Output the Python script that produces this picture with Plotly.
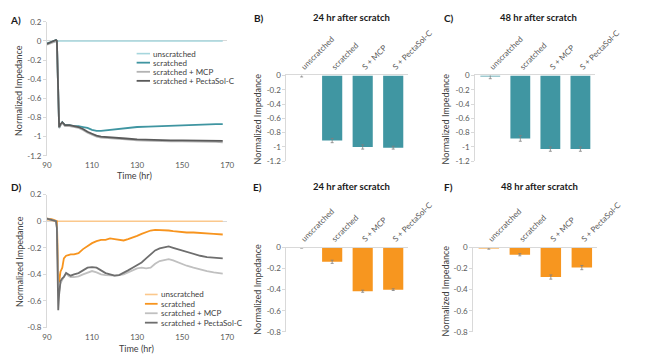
import plotly.graph_objects as go

W, H = 650, 362
FONT = "Lato"

# ---------------- data ----------------
series_names = ["unscratched", "scratched", "scratched + MCP", "scratched + PectaSol-C"]
bar_categories = ["unscratched", "scratched", "S + MCP", "S + PectaSol-C"]

time_a = [90, 91, 92, 93, 94, 94.4, 95.4, 96, 96.8, 98, 100, 102, 104, 106, 108, 110, 112, 114, 116,
          120, 125, 130, 135, 140, 145, 150, 155, 160, 165, 168]
a_unscratched = [-0.02, -0.015, -0.01, -0.005, 0, 0, 0, 0, 0, 0, 0, 0, 0, 0, 0, 0, 0, 0, 0,
                 0, 0, 0, 0, 0, 0, 0, 0, 0, 0, 0]
a_scratched = [-0.03, -0.02, -0.01, 0.0, 0.01, 0.0, -0.91, -0.88, -0.85, -0.88, -0.88, -0.89, -0.89,
               -0.90, -0.91, -0.93, -0.94, -0.94, -0.935, -0.925, -0.91, -0.90, -0.895, -0.89, -0.885,
               -0.88, -0.875, -0.87, -0.87, -0.87]
a_mcp = [-0.04, -0.03, -0.02, -0.01, 0.0, 0.0, -0.91, -0.88, -0.86, -0.89, -0.89, -0.90, -0.91, -0.93,
         -0.96, -0.98, -1.0, -1.01, -1.015, -1.02, -1.03, -1.04, -1.045, -1.05, -1.05, -1.05, -1.05,
         -1.055, -1.055, -1.06]
a_pecta = [-0.03, -0.02, -0.01, 0.0, 0.01, 0.0, -0.90, -0.87, -0.85, -0.88, -0.88, -0.89, -0.90, -0.92,
           -0.95, -0.97, -0.99, -1.0, -1.005, -1.01, -1.02, -1.03, -1.035, -1.04, -1.04, -1.04, -1.04,
           -1.04, -1.04, -1.045]

time_d = [90, 91, 92, 93, 94, 94.4, 95.0, 95.4, 96.0, 96.8, 97.5, 98.5, 99.5, 100.5, 102, 104, 106,
          108, 110, 112, 114, 116, 118, 120, 122, 124, 126, 128, 130, 132, 134, 136, 138, 140, 142,
          144, 146, 148, 150, 152, 155, 158, 161, 164, 168]
d_unscratched = [0.01, 0.01, 0.005, 0.0, 0, 0, 0, 0, 0, 0, 0, 0, 0, 0, 0, 0, 0, 0, 0, 0, 0, 0, 0,
                 0, 0, 0, 0, 0, 0, 0, 0, 0, 0, 0, 0, 0, 0, 0, 0, 0, 0, 0, 0, 0, 0]
d_scratched = [0.02, 0.02, 0.015, 0.01, 0.005, 0.0, -0.40, -0.46, -0.38, -0.35, -0.28, -0.26, -0.255,
               -0.25, -0.25, -0.24, -0.21, -0.185, -0.165, -0.15, -0.14, -0.14, -0.13, -0.135, -0.14,
               -0.145, -0.135, -0.125, -0.11, -0.095, -0.08, -0.07, -0.065, -0.065, -0.07, -0.07,
               -0.075, -0.08, -0.08, -0.085, -0.085, -0.09, -0.09, -0.095, -0.10]
d_mcp = [0.02, 0.015, 0.01, 0.005, 0.0, -0.05, -0.50, -0.53, -0.47, -0.44, -0.42, -0.39, -0.41, -0.42,
         -0.42, -0.415, -0.40, -0.385, -0.375, -0.385, -0.40, -0.405, -0.41, -0.41, -0.405, -0.40,
         -0.385, -0.37, -0.355, -0.35, -0.355, -0.35, -0.32, -0.30, -0.29, -0.285, -0.295, -0.31,
         -0.325, -0.335, -0.35, -0.365, -0.375, -0.385, -0.395]
d_pecta = [0.02, 0.015, 0.01, 0.005, 0.0, -0.05, -0.67, -0.55, -0.45, -0.43, -0.42, -0.39, -0.40,
           -0.41, -0.40, -0.39, -0.37, -0.35, -0.345, -0.35, -0.37, -0.39, -0.40, -0.41, -0.405,
           -0.39, -0.37, -0.35, -0.33, -0.31, -0.28, -0.25, -0.22, -0.205, -0.195, -0.19, -0.20,
           -0.21, -0.225, -0.235, -0.25, -0.26, -0.27, -0.275, -0.28]

b_values = [0.0, -0.91, -1.0, -1.01]
b_errors = [0.02, 0.03, 0.03, 0.02]
c_values = [-0.005, -0.88, -1.03, -1.03]
c_errors = [0.04, 0.04, 0.03, 0.03]
e_values = [0.0, -0.135, -0.415, -0.40]
e_errors = [0.005, 0.015, 0.01, 0.008]
f_values = [-0.005, -0.068, -0.28, -0.19]
f_errors = [0.01, 0.01, 0.02, 0.02]

time_ticks = [90, 110, 130, 150, 170]
ticks_12 = [0.2, 0, -0.2, -0.4, -0.6, -0.8, -1, -1.2]
ticks_12_text = ["0.2", "0", "-0.2", "-0.4", "-0.6", "-0.8", "-1", "-1.2"]
ticks_08 = [0.2, 0, -0.2, -0.4, -0.6, -0.8]
ticks_08_text = ["0.2", "0", "-0.2", "-0.4", "-0.6", "-0.8"]

panel_letters = ["A)", "B)", "C)", "D)", "E)", "F)"]
bar_titles = ["24 hr after scratch", "48 hr after scratch", "24 hr after scratch", "48 hr after scratch"]

teal_colors = ["#a6d6dd", "#3f95a1", "#b3b3b3", "#5a5a5a"]
orange_colors = ["#fbc88c", "#f7941e", "#c0c0c0", "#6e6e6e"]
teal_bar = "#4096a2"
orange_bar = "#f7961f"

AXC = "#d9d9d9"
TXT = "#595959"
TTL = "#404040"


def px(x):
    return x / W


def py(y):
    return 1 - y / H


fig = go.Figure()

# ---------------- line panels ----------------
line_panels = [
    ("x", "y", time_a, [a_unscratched, a_scratched, a_mcp, a_pecta], teal_colors),
    ("x4", "y4", time_d, [d_unscratched, d_scratched, d_mcp, d_pecta], orange_colors),
]
widths = [1.6, 1.8, 1.8, 1.8]
for xa, ya, t, series, cols in line_panels:
    for name, vals, col, w in zip(series_names, series, cols, widths):
        fig.add_trace(go.Scatter(x=t, y=vals, mode="lines", name=name, xaxis=xa, yaxis=ya,
                                 line=dict(color=col, width=w), showlegend=False))

# ---------------- bar panels ----------------
bar_panels = [
    ("x2", "y2", b_values, b_errors, teal_bar),
    ("x3", "y3", c_values, c_errors, teal_bar),
    ("x5", "y5", e_values, e_errors, orange_bar),
    ("x6", "y6", f_values, f_errors, orange_bar),
]
for xa, ya, vals, errs, col in bar_panels:
    fig.add_trace(go.Bar(x=bar_categories, y=vals, xaxis=xa, yaxis=ya, marker=dict(color=col, line=dict(width=0)),
                         error_y=dict(type="data", array=errs, color="#808080", thickness=0.8, width=1.5),
                         showlegend=False, cliponaxis=False))

tickfont = dict(family=FONT, size=8, color=TXT)

# line-axis domains
line_x = [px(44), px(233)]
a_y = [py(155), py(17.3)]
d_y = [py(331.7), py(195)]

common_line_x = dict(range=[90, 170], tickvals=time_ticks, showline=False, showgrid=False, zeroline=False,
                     ticks="outside", ticklen=2, tickcolor="rgba(0,0,0,0)", tickfont=tickfont)
common_line_y = dict(showline=True, linecolor=AXC, linewidth=1, ticks="outside", ticklen=3, tickcolor=AXC,
                     showgrid=False, zeroline=True, zerolinecolor=AXC, zerolinewidth=1, tickfont=tickfont)

fig.update_layout(
    xaxis=dict(domain=line_x, anchor="y", **common_line_x),
    yaxis=dict(domain=a_y, anchor="x", range=[-1.2, 0.2], tickvals=ticks_12, ticktext=ticks_12_text,
               **common_line_y),
    xaxis4=dict(domain=line_x, anchor="y4", **common_line_x),
    yaxis4=dict(domain=d_y, anchor="x4", range=[-0.8, 0.2], tickvals=ticks_08, ticktext=ticks_08_text,
                **common_line_y),
)

common_bar_x = dict(side="top", tickangle=-45, showline=True, linecolor=AXC, linewidth=1, ticks="",
                    showgrid=False, zeroline=False, tickfont=tickfont, type="category")
common_bar_y = dict(showline=True, linecolor=AXC, linewidth=1, ticks="outside", ticklen=3, tickcolor=AXC,
                    showgrid=False, zeroline=False, tickfont=tickfont)
b_y = [py(160.7), py(72.5)]
e_y = [py(336), py(249.5)]
fig.update_layout(
    xaxis2=dict(domain=[px(295), px(423)], anchor="y2", **common_bar_x),
    yaxis2=dict(domain=b_y, anchor="x2", range=[-1.2, 0], tickvals=ticks_12[1:], ticktext=ticks_12_text[1:],
                **common_bar_y),
    xaxis3=dict(domain=[px(493), px(619)], anchor="y3", **common_bar_x),
    yaxis3=dict(domain=b_y, anchor="x3", range=[-1.2, 0], tickvals=ticks_12[1:], ticktext=ticks_12_text[1:],
                **common_bar_y),
    xaxis5=dict(domain=[px(295), px(423)], anchor="y5", **common_bar_x),
    yaxis5=dict(domain=e_y, anchor="x5", range=[-0.8, 0], tickvals=ticks_08[1:], ticktext=ticks_08_text[1:],
                **common_bar_y),
    xaxis6=dict(domain=[px(491), px(621)], anchor="y6", **common_bar_x),
    yaxis6=dict(domain=e_y, anchor="x6", range=[-0.8, 0], tickvals=ticks_08[1:], ticktext=ticks_08_text[1:],
                **common_bar_y),
)

annotations = []
shapes = []


def ann(x, y, text, size=9, bold=False, color=TTL, angle=0, xanchor="center"):
    annotations.append(dict(x=px(x), y=py(y), xref="paper", yref="paper", text=f"<b>{text}</b>" if bold else text,
                            showarrow=False, textangle=angle, xanchor=xanchor, yanchor="middle",
                            font=dict(family=FONT, size=size, color=color)))


# panel letters
for (lx, ly), letter in zip([(11, 15), (266, 13), (466, 13), (12, 187), (265, 187), (465, 187)], panel_letters):
    ann(lx, ly, letter, size=10, bold=True, color="#1a1a1a")
# bar titles
for (tx, ty), title in zip([(363, 13), (559, 13), (363, 187), (560, 187)], bar_titles):
    ann(tx, ty, title, size=9.5, bold=True, color="#1a1a1a")
# y-axis titles
for (ax, ay) in [(14, 88), (15, 264), (265, 117), (462, 117), (265, 292), (462, 294)]:
    ann(ax, ay, "Normalized Impedance", size=9, angle=-90)
# x-axis titles
ann(136, 175.5, "Time (hr)", size=9)
ann(138, 353, "Time (hr)", size=9)

# custom legends
for (sx0, sx1, rows), cols in [((138, 152, [50, 59.3, 68.7, 78]), teal_colors),
                               ((146.7, 160, [297.7, 307.3, 317, 326.7]), orange_colors)]:
    for name, col, ry, w in zip(series_names, cols, rows, widths):
        shapes.append(dict(type="line", xref="paper", yref="paper", x0=px(sx0), x1=px(sx1), y0=py(ry), y1=py(ry),
                           line=dict(color=col, width=w)))
        ann(sx1 + 1, ry, name, size=8, color=TTL, xanchor="left")

fig.update_layout(
    width=W, height=H, margin=dict(l=0, r=0, t=0, b=0),
    paper_bgcolor="white", plot_bgcolor="white",
    bargap=0.34, showlegend=False,
    annotations=annotations, shapes=shapes,
    font=dict(family=FONT, color=TXT),
)

fig.write_html("out.html", config={"displayModeBar": False},
               post_script="document.body.style.margin='0px';document.body.style.padding='0px';")
